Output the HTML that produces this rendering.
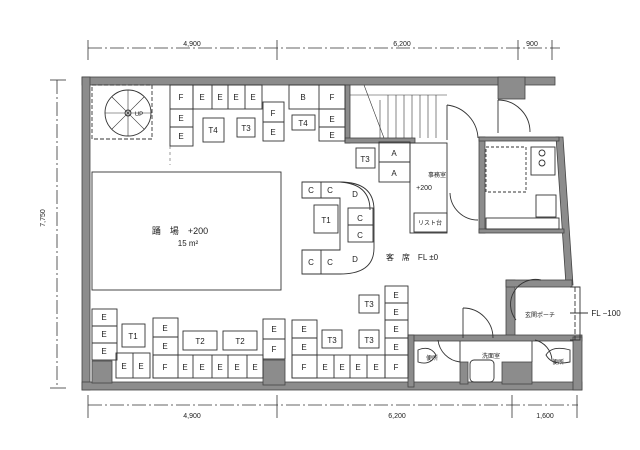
<!DOCTYPE html>
<html><head><meta charset="utf-8"><style>
html,body{margin:0;padding:0;background:#fff;}
svg{display:block;}
text{font-family:"Liberation Sans","Noto Sans CJK JP",sans-serif;fill:#222;}
</style></head><body>
<svg width="640" height="450" viewBox="0 0 640 450" xmlns="http://www.w3.org/2000/svg">
<rect width="640" height="450" fill="#fff"/>
<g stroke="#333" stroke-width="0.8" fill="none">
<line x1="88" y1="48" x2="560" y2="48" stroke-dasharray="14 3 2 3"/>
<line x1="88" y1="40" x2="88" y2="60"/><line x1="277" y1="40" x2="277" y2="60"/><line x1="518" y1="40" x2="518" y2="60"/><line x1="552" y1="40" x2="552" y2="60"/>
<line x1="88" y1="405" x2="578" y2="405" stroke-dasharray="14 3 2 3"/>
<line x1="88" y1="395" x2="88" y2="418"/><line x1="277" y1="395" x2="277" y2="418"/><line x1="512" y1="395" x2="512" y2="418"/><line x1="577" y1="395" x2="577" y2="418"/>
<line x1="57" y1="80" x2="57" y2="388" stroke-dasharray="14 3 2 3"/>
<line x1="50" y1="80" x2="66" y2="80"/><line x1="50" y1="388" x2="66" y2="388"/>
</g>
<g font-size="7" text-anchor="middle">
<text x="192" y="46">4,900</text><text x="402" y="46">6,200</text><text x="532" y="46">900</text>
<text x="192" y="418">4,900</text><text x="397" y="418">6,200</text><text x="545" y="418">1,600</text>
<text x="45" y="218" transform="rotate(-90 45 218)">7,750</text>
</g>
<g fill="#8c8c8c" stroke="#444" stroke-width="0.8">
<rect x="82" y="77" width="473" height="8"/>
<rect x="82" y="77" width="8" height="313"/>
<rect x="82" y="382" width="500" height="8"/>
<rect x="498" y="77" width="27" height="22"/>
<polygon points="556,137 563,137 573,285 566,285"/>
<rect x="345" y="85" width="5" height="58"/>
<rect x="345" y="138" width="70" height="5"/>
<rect x="479" y="137" width="6" height="96"/>
<rect x="479" y="137" width="80" height="4"/>
<rect x="479" y="229" width="85" height="4"/>
<rect x="506" y="280" width="9" height="60"/>
<rect x="506" y="280" width="66" height="7"/>
<rect x="408" y="335" width="174" height="6"/>
<rect x="408" y="335" width="6" height="52"/>
<rect x="573" y="337" width="9" height="53"/>
<rect x="263" y="360" width="22" height="25"/>
<rect x="460" y="362" width="8" height="22"/>
<rect x="502" y="362" width="30" height="22"/>
<rect x="92" y="361" width="20" height="22"/>
</g>
<g fill="none" stroke="#333" stroke-width="0.9">
<rect x="92" y="85" width="60" height="54" stroke-dasharray="4 2"/>
<circle cx="128" cy="113" r="23"/>
<circle cx="128" cy="113" r="3"/>
<g stroke-width="0.6">
<line x1="128" y1="90" x2="128" y2="136"/><line x1="105" y1="113" x2="151" y2="113"/>
<line x1="112" y1="97" x2="144" y2="129"/><line x1="144" y1="97" x2="112" y2="129"/>
</g>
<rect x="170" y="85" width="23" height="61"/><line x1="170" y1="109" x2="193" y2="109"/><line x1="170" y1="127" x2="193" y2="127"/>
<rect x="193" y="85" width="69" height="24"/><line x1="212" y1="85" x2="212" y2="109"/><line x1="228" y1="85" x2="228" y2="109"/><line x1="245" y1="85" x2="245" y2="109"/>
<rect x="203" y="118" width="21" height="24"/><rect x="237" y="118" width="18" height="19"/>
<rect x="263" y="102" width="21" height="39"/><line x1="263" y1="122" x2="284" y2="122"/>
<rect x="289" y="85" width="56" height="24"/><line x1="319" y1="85" x2="319" y2="109"/>
<rect x="319" y="109" width="26" height="32"/><line x1="319" y1="127" x2="345" y2="127"/>
<rect x="292" y="115" width="23" height="15"/>
<line x1="170" y1="146" x2="170" y2="165" stroke-dasharray="3 3" stroke-width="0.5"/>
<rect x="92" y="172" width="189" height="118"/>
<path d="M302 182 H340 Q374 182 374 210 V248 Q374 274 340 274 H302 V250 H340 V198 H302 Z"/>
<line x1="321" y1="182" x2="321" y2="198"/><line x1="321" y1="250" x2="321" y2="274"/>
<path d="M340 182 Q370 184 370 210"/>
<rect x="348" y="208" width="25" height="34"/><line x1="348" y1="225" x2="373" y2="225"/>
<rect x="314" y="205" width="24" height="28"/>
<g stroke-width="0.6"><line x1="380" y1="100" x2="380" y2="138"/><line x1="388" y1="95" x2="388" y2="138"/><line x1="396" y1="95" x2="396" y2="138"/><line x1="404" y1="95" x2="404" y2="138"/><line x1="412" y1="95" x2="412" y2="138"/><line x1="420" y1="95" x2="420" y2="138"/><line x1="428" y1="95" x2="428" y2="138"/><line x1="436" y1="95" x2="436" y2="138"/><line x1="364" y1="85" x2="384" y2="138"/><line x1="350" y1="95" x2="447" y2="95"/></g>
<rect x="379" y="142" width="31" height="40"/><line x1="379" y1="162" x2="410" y2="162"/>
<rect x="356" y="148" width="19" height="20"/>
<rect x="410" y="143" width="37" height="90"/><rect x="414" y="213" width="33" height="19"/>
<path d="M447 105 A35 35 0 0 1 478 138"/><line x1="447" y1="105" x2="447" y2="140"/>
<path d="M450 193 A28 28 0 0 0 478 220"/>
<path d="M498 100 A32 32 0 0 1 530 132"/><line x1="498" y1="100" x2="498" y2="133"/>
<rect x="486" y="147" width="40" height="45" stroke-dasharray="3 2"/>
<rect x="531" y="147" width="24" height="28"/><circle cx="542" cy="153" r="3"/><circle cx="542" cy="163" r="3"/>
<rect x="536" y="195" width="20" height="22"/><rect x="486" y="218" width="73" height="11"/>
<rect x="92" y="309" width="25" height="51"/><line x1="92" y1="326" x2="117" y2="326"/><line x1="92" y1="343" x2="117" y2="343"/>
<rect x="116" y="353" width="34" height="25"/><line x1="133" y1="353" x2="133" y2="378"/>
<rect x="122" y="324" width="23" height="23"/>
<rect x="153" y="318" width="25" height="60"/><line x1="153" y1="337" x2="178" y2="337"/><line x1="153" y1="355" x2="178" y2="355"/>
<rect x="153" y="355" width="110" height="23"/>
<line x1="193" y1="355" x2="193" y2="378"/><line x1="212" y1="355" x2="212" y2="378"/><line x1="228" y1="355" x2="228" y2="378"/><line x1="247" y1="355" x2="247" y2="378"/>
<rect x="183" y="331" width="34" height="19"/><rect x="223" y="331" width="34" height="19"/>
<rect x="263" y="319" width="22" height="40"/><line x1="263" y1="339" x2="285" y2="339"/>
<rect x="292" y="320" width="25" height="58"/><line x1="292" y1="338" x2="317" y2="338"/><line x1="292" y1="355" x2="317" y2="355"/>
<rect x="292" y="355" width="93" height="23"/>
<line x1="334" y1="355" x2="334" y2="378"/><line x1="350" y1="355" x2="350" y2="378"/><line x1="367" y1="355" x2="367" y2="378"/>
<rect x="322" y="330" width="20" height="18"/><rect x="359" y="330" width="20" height="18"/><rect x="359" y="295" width="20" height="18"/>
<rect x="385" y="286" width="23" height="92"/>
<line x1="385" y1="303" x2="408" y2="303"/><line x1="385" y1="320" x2="408" y2="320"/><line x1="385" y1="338" x2="408" y2="338"/><line x1="385" y1="355" x2="408" y2="355"/>
<line x1="460" y1="341" x2="460" y2="362"/><line x1="532" y1="341" x2="532" y2="362"/>
<path d="M463 308 A30 30 0 0 1 493 338"/><line x1="463" y1="308" x2="463" y2="338"/>
<path d="M438 340 A25 25 0 0 0 460 362"/>
<path d="M535 340 A22 22 0 0 1 552 360"/>
<path d="M418 350 Q430 345 436 355 Q430 366 418 362 Z"/><path d="M570 350 Q552 345 546 355 Q552 366 570 362 Z"/>
<rect x="470" y="360" width="24" height="22" rx="4"/>
<path d="M516 320 A25 25 0 0 1 541 280"/>
<line x1="575" y1="287" x2="575" y2="340" stroke-dasharray="5 2"/>
<polyline points="570,287 580,287 580,340 570,340"/>
<line x1="570" y1="313" x2="588" y2="313"/>
</g>
<g font-size="8" text-anchor="middle">
<text x="181" y="100">F</text><text x="181" y="121">E</text><text x="181" y="139">E</text>
<text x="202" y="100">E</text><text x="220" y="100">E</text><text x="236" y="100">E</text><text x="253" y="100">E</text>
<text x="213" y="133">T4</text><text x="246" y="131">T3</text>
<text x="273" y="116">F</text><text x="273" y="135">E</text>
<text x="303" y="100">B</text><text x="332" y="100">F</text><text x="332" y="122">E</text><text x="332" y="138">E</text>
<text x="303" y="126">T4</text>
<text x="139" y="116" font-size="6">UP</text>
<text x="180" y="234" font-size="9">踊　場　+200</text><text x="188" y="246" font-size="8">15 m²</text>
<text x="311" y="193">C</text><text x="330" y="193">C</text><text x="355" y="197">D</text>
<text x="326" y="223">T1</text>
<text x="360" y="221">C</text><text x="360" y="238">C</text>
<text x="311" y="265">C</text><text x="330" y="265">C</text><text x="355" y="262">D</text>
<text x="394" y="156">A</text><text x="394" y="176">A</text><text x="365" y="162">T3</text>
<text x="437" y="177" font-size="6">事務室</text><text x="424" y="190" font-size="7">+200</text>
<text x="430" y="225" font-size="6">リスト台</text>
<text x="412" y="260" font-size="8">客　席　FL ±0</text>
<text x="104" y="320">E</text><text x="104" y="337">E</text><text x="104" y="354">E</text>
<text x="124" y="369">E</text><text x="141" y="369">E</text><text x="133" y="339">T1</text>
<text x="165" y="331">E</text><text x="165" y="349">E</text><text x="165" y="370">F</text>
<text x="185" y="370">E</text><text x="202" y="370">E</text><text x="220" y="370">E</text><text x="237" y="370">E</text><text x="255" y="370">E</text>
<text x="200" y="344">T2</text><text x="240" y="344">T2</text>
<text x="274" y="332">E</text><text x="274" y="352">F</text>
<text x="304" y="332">E</text><text x="304" y="350">E</text><text x="304" y="370">F</text>
<text x="325" y="370">E</text><text x="342" y="370">E</text><text x="358" y="370">E</text><text x="376" y="370">E</text>
<text x="332" y="343">T3</text><text x="369" y="343">T3</text><text x="369" y="307">T3</text>
<text x="396" y="298">E</text><text x="396" y="315">E</text><text x="396" y="332">E</text><text x="396" y="350">E</text><text x="396" y="370">F</text>
<text x="491" y="358" font-size="6">洗面室</text>
<text x="432" y="360" font-size="6">便所</text><text x="558" y="364" font-size="6">便所</text>
<text x="540" y="317" font-size="6">玄関ポーチ</text>
<text x="606" y="316" font-size="8">FL −100</text>
</g>
</svg>
</body></html>
